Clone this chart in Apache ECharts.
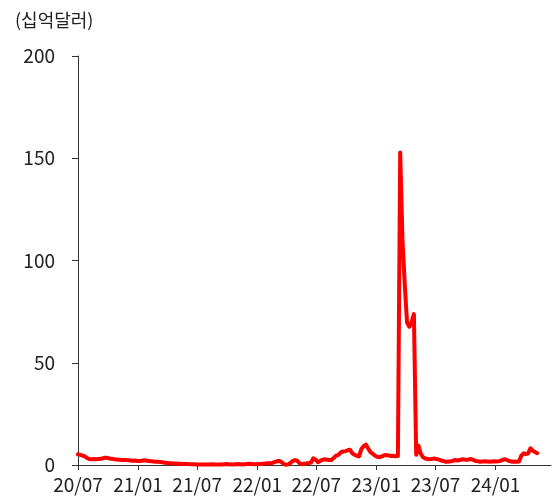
<!DOCTYPE html>
<html><head><meta charset="utf-8">
<script src="https://cdn.jsdelivr.net/npm/echarts@6/dist/echarts.min.js"></script>
<style>html,body{margin:0;padding:0;background:#fff}#c{width:553px;height:500px}</style>
</head><body><div id="c"></div>
<script>
const unitLabel = '(십억달러)';
const firstWeek = [2020, 7, 1];      // weekly observations (Wednesdays) starting here
const axisEnd = [2024, 6, 19];
const yTicks = [0, 50, 100, 150, 200];
const values2020H2 = [5.2,5.0,4.6,4.2,3.4,2.9,2.8,2.9,2.8,2.9,3.0,3.3,3.6,3.4,3.1,3.0,2.8,2.7,2.6,2.5,2.4,2.4,2.3,2.2,2.1,2.2];
const values2021 = [2.0,1.9,2.1,2.3,2.2,1.9,1.8,1.7,1.6,1.6,1.5,1.3,1.1,1.0,0.9,0.8,0.7,
  0.7,0.6,0.6,0.5,0.5,0.5,0.4,0.4,0.4,0.3,0.3,0.3,0.3,0.3,0.2,0.3,0.4,0.3,0.2,0.2,0.3,0.4,0.5,0.4,0.3,0.3,0.4,0.5,0.4,0.3,0.4,0.5,0.6,0.5,0.4,0.4];
const values2022 = [0.5,0.5,0.6,0.7,0.8,
  0.8,1.0,1.4,1.8,2.0,1.5,0.5,0.1,0.3,1.0,2.0,2.4,2.0,0.8,0.4,0.6,0.8,0.9,1.2,3.3,2.6,1.4,2.0,2.5,2.8,2.6,2.4,2.5,3.6,4.6,5.0,6.2,6.6,6.8,7.2,7.5,5.8,5.0,4.5,4.2,7.8,
  9.2,10.0,8.0,6.3,5.5,4.5,4.0];
const values2023 = [3.8,4.2,4.8,4.9,4.6,4.4,4.5,4.3,4.4,
  152.8,110.2,88.2,69.7,67.6,69.9,73.8,5.0,9.5,5.5,3.8,
  3.2,2.9,2.8,3.0,3.2,2.9,2.6,2.2,1.9,1.6,1.6,1.8,2.0,2.5,2.2,2.4,2.8,2.7,2.5,2.7,2.9,2.5,2.0,1.8,1.6,1.7,1.8,1.7,1.6,1.7,1.8,1.7,1.8];
const values2024 = [2.1,2.6,2.8,2.3,1.9,1.6,1.7,1.6,1.7,4.6,5.7,5.4,5.6,8.2,7.0,6.4,5.8];

const allValues = [].concat(values2020H2, values2021, values2022, values2023, values2024);
const seriesData = allValues.map((v, i) => [new Date(firstWeek[0], firstWeek[1] - 1, firstWeek[2] + 7 * i).getTime(), v]);

const FONT = '"Noto Sans CJK KR", "Noto Sans", sans-serif';
const axisColor = '#333333';
const chart = echarts.init(document.getElementById('c'), null, {renderer: 'canvas'});
chart.setOption({
  animation: false,
  backgroundColor: '#ffffff',
  title: {
    text: unitLabel, left: 10, top: 6,
    textStyle: {fontFamily: FONT, fontSize: 18, fontWeight: 'normal', color: '#222'}
  },
  grid: {left: 78, right: 2, top: 56, bottom: 35, containLabel: false},
  xAxis: {
    type: 'time',
    min: new Date(firstWeek[0], firstWeek[1] - 1, firstWeek[2]).getTime(),
    max: new Date(axisEnd[0], axisEnd[1] - 1, axisEnd[2]).getTime(),
    splitNumber: 8,
    minInterval: 180 * 86400000,
    axisLine: {show: true, lineStyle: {color: axisColor, width: 1}},
    axisTick: {show: true, length: 5, lineStyle: {color: axisColor}},
    splitLine: {show: false},
    axisLabel: {
      margin: 10, fontFamily: FONT, fontSize: 19, color: '#222', showMinLabel: true,
      formatter: function (val) {
        const d = new Date(val);
        const yy = String(d.getFullYear() % 100).padStart(2, '0');
        const mm = String(d.getMonth() + 1).padStart(2, '0');
        return yy + '/' + mm;
      }
    }
  },
  yAxis: {
    type: 'value', min: yTicks[0], max: yTicks[yTicks.length - 1], interval: yTicks[1] - yTicks[0],
    axisLine: {show: true, lineStyle: {color: axisColor, width: 1}},
    axisTick: {show: true, length: 6, lineStyle: {color: axisColor}},
    splitLine: {show: false},
    axisLabel: {margin: 23, fontFamily: FONT, fontSize: 19, color: '#222'}
  },
  series: [{
    type: 'line', data: seriesData, showSymbol: false, symbol: 'none',
    lineStyle: {color: '#ff0000', width: 4, join: 'round', cap: 'round'},
    itemStyle: {color: '#ff0000'}
  }]
});
</script></body></html>
